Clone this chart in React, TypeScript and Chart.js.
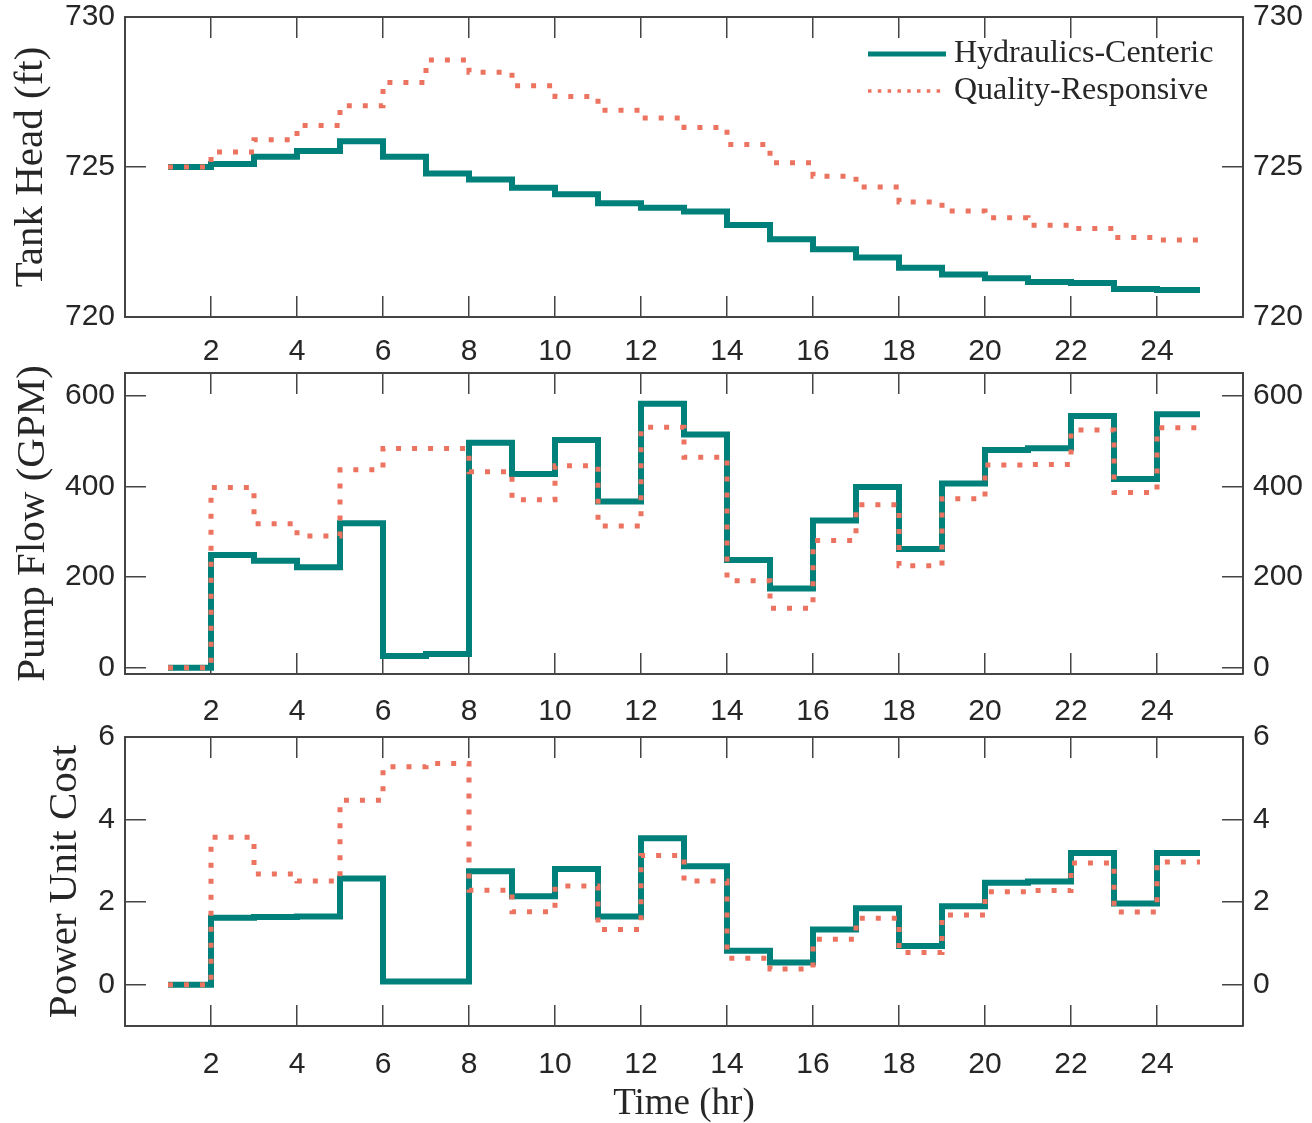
import React, { useEffect, useRef } from 'react';
import { Chart, registerables } from 'chart.js';

Chart.register(...registerables);

// ---------- data ----------
const hours = [1, 2, 3, 4, 5, 6, 7, 8, 9, 10, 11, 12, 13, 14, 15, 16, 17, 18, 19, 20, 21, 22, 23, 24, 25];
const xTicks = [2, 4, 6, 8, 10, 12, 14, 16, 18, 20, 22, 24];
const seriesLabels = ['Hydraulics-Centeric', 'Quality-Responsive'];
const yTitles = ['Tank Head (ft)', 'Pump Flow (GPM)', 'Power Unit Cost'];
const xTitle = 'Time (hr)';

const headTicks = [720, 725, 730];
const flowTicks = [0, 200, 400, 600];
const costTicks = [0, 2, 4, 6];

const headHC = [725.0, 725.1, 725.34, 725.53, 725.86, 725.34, 724.78, 724.58, 724.31, 724.09, 723.79, 723.64,
  723.52, 723.07, 722.59, 722.26, 721.98, 721.64, 721.42, 721.29, 721.17, 721.13, 720.93, 720.9];
const headQR = [725.0, 725.5, 725.91, 726.38, 727.04, 727.82, 728.57, 728.16, 727.71, 727.35, 726.89, 726.63,
  726.32, 725.75, 725.14, 724.69, 724.33, 723.83, 723.53, 723.31, 723.06, 722.95, 722.65, 722.57];

const flowHC = [0, 249, 236, 222, 319, 26, 30, 497, 428, 503, 367, 583,
  515, 238, 175, 325, 399, 262, 407, 481, 485, 556, 417, 560];
const flowQR = [0, 398, 318, 291, 437, 484, 484, 433, 371, 446, 313, 531,
  465, 192, 131, 281, 360, 225, 373, 448, 449, 525, 387, 530];

const costHC = [0, 1.62, 1.64, 1.65, 2.57, 0.08, 0.08, 2.75, 2.14, 2.8, 1.65, 3.55,
  2.87, 0.82, 0.54, 1.34, 1.85, 0.94, 1.9, 2.47, 2.5, 3.19, 1.97, 3.19];
const costQR = [0, 3.57, 2.68, 2.51, 4.47, 5.28, 5.36, 2.29, 1.77, 2.39, 1.34, 3.13,
  2.51, 0.64, 0.38, 1.1, 1.61, 0.78, 1.69, 2.25, 2.28, 2.95, 1.76, 2.97];

// ---------- style ----------
const TEAL = '#00807A';
const ORANGE = '#EB735F';
const TEXT = '#262626';
const AXIS = '#444444';
const SANS = '"Liberation Sans", Arial, sans-serif';
const SERIF = '"Liberation Serif", "Times New Roman", serif';
const PAGE_W = 1312;
const AREA_LEFT = 125;
const AREA_RIGHT = 1243;

interface Panel {
  top: number; height: number; areaTop: number; areaBottom: number;
  yMin: number; yMax: number; yTicks: number[]; title: string;
  hc: number[]; qr: number[]; xLabelPad: number; titlePad: number;
  showXTitle: boolean; showLegend: boolean;
}

const panels: Panel[] = [
  { top: 0, height: 365, areaTop: 17, areaBottom: 317, yMin: 720, yMax: 730, yTicks: headTicks,
    title: yTitles[0], hc: headHC, qr: headQR, xLabelPad: 41, titlePad: 10.5, showXTitle: false, showLegend: true },
  { top: 365, height: 360, areaTop: 373, areaBottom: 674, yMin: -14, yMax: 651, yTicks: flowTicks,
    title: yTitles[1], hc: flowHC, qr: flowQR, xLabelPad: 44, titlePad: 12.5, showXTitle: false, showLegend: false },
  { top: 725, height: 398, areaTop: 737, areaBottom: 1026, yMin: -1, yMax: 6, yTicks: costTicks,
    title: yTitles[2], hc: costHC, qr: costQR, xLabelPad: 45, titlePad: 44.5, showXTitle: true, showLegend: false },
];

const insideLegend = {
  id: 'insideLegend',
  afterDatasetsDraw(chart: any) {
    const { ctx, chartArea } = chart;
    const ds = chart.data.datasets;
    ctx.save();
    ds.forEach((d: any, i: number) => {
      const y = chartArea.top + 37 + i * 37;
      const x0 = chartArea.right - 375;
      const x1 = chartArea.right - 297;
      const dotted = d.borderDash && d.borderDash.length > 0;
      ctx.beginPath();
      ctx.strokeStyle = d.borderColor;
      ctx.lineWidth = dotted ? 3.5 : 5;
      ctx.lineCap = 'butt';
      ctx.setLineDash(dotted ? [3.5, 6.3] : []);
      ctx.moveTo(x0, y);
      ctx.lineTo(x1, y);
      ctx.stroke();
      ctx.setLineDash([]);
      ctx.font = '32px ' + SERIF;
      ctx.fillStyle = TEXT;
      ctx.textBaseline = 'middle';
      ctx.textAlign = 'left';
      ctx.fillText(d.label, chartArea.right - 289, y);
    });
    ctx.restore();
  },
};

function toPoints(vals: number[]) {
  return hours.map((h, i) => ({ x: h, y: vals[Math.min(i, vals.length - 1)] }));
}

function noPad(s: any) {
  s.paddingTop = 0;
  s.paddingBottom = 0;
  s.paddingLeft = 0;
  s.paddingRight = 0;
}

function makeChart(canvas: HTMLCanvasElement, p: Panel) {
  const topH = p.areaTop - p.top;
  const bottomH = p.height - (p.areaBottom - p.top);
  const grid = { drawOnChartArea: false, drawTicks: true, tickLength: -21, color: AXIS, lineWidth: 1.5 };
  const border = { display: true, color: AXIS, width: 2 };
  const tickFont = { family: SANS, size: 30, lineHeight: 1 };
  const setX = (s: any) => { s.ticks = xTicks.map((v) => ({ value: v })); };
  const setY = (s: any) => { s.ticks = p.yTicks.map((v) => ({ value: v })); };

  return new Chart(canvas, {
    type: 'line',
    data: {
      datasets: [
        {
          label: seriesLabels[0], data: toPoints(p.hc), borderColor: TEAL, borderWidth: 6,
          stepped: true, pointRadius: 0, order: 1, borderCapStyle: 'butt', borderJoinStyle: 'miter',
          yAxisID: 'y', xAxisID: 'x',
        },
        {
          label: seriesLabels[1], data: toPoints(p.qr), borderColor: ORANGE, borderWidth: 5,
          borderDash: [5, 11], stepped: true, pointRadius: 0, order: 0, borderCapStyle: 'butt',
          borderJoinStyle: 'miter', yAxisID: 'y', xAxisID: 'x',
        },
      ] as any,
    },
    options: {
      responsive: false,
      animation: false,
      events: [],
      layout: { padding: 0, autoPadding: false },
      plugins: { legend: { display: false }, tooltip: { enabled: false } },
      scales: {
        x: {
          type: 'linear', position: 'bottom', min: 0, max: 26,
          afterBuildTicks: setX,
          afterFit: (s: any) => { s.height = bottomH; noPad(s); },
          grid, border,
          ticks: { font: tickFont, color: TEXT, padding: p.xLabelPad, maxRotation: 0, autoSkip: false },
          title: p.showXTitle
            ? { display: true, text: xTitle, color: TEXT, font: { family: SERIF, size: 37, lineHeight: 1 }, padding: { top: 0, bottom: 0.5 } }
            : { display: false },
        },
        xTop: {
          type: 'linear', position: 'top', min: 0, max: 26,
          afterBuildTicks: setX,
          afterFit: (s: any) => { s.height = topH; noPad(s); },
          grid, border,
          ticks: { display: false },
        },
        y: {
          type: 'linear', position: 'left', min: p.yMin, max: p.yMax,
          afterBuildTicks: setY,
          afterFit: (s: any) => { s.width = AREA_LEFT; noPad(s); },
          grid, border,
          ticks: { font: tickFont, color: TEXT, padding: 31 },
          title: { display: true, text: p.title, color: TEXT, font: { family: SERIF, size: 41, lineHeight: 1 }, padding: { top: p.titlePad, bottom: 0 } },
        },
        yRight: {
          type: 'linear', position: 'right', min: p.yMin, max: p.yMax,
          afterBuildTicks: setY,
          afterFit: (s: any) => { s.width = PAGE_W - AREA_RIGHT; noPad(s); },
          grid, border,
          ticks: { font: tickFont, color: TEXT, padding: 31 },
        },
      },
    } as any,
    plugins: p.showLegend ? [insideLegend] : [],
  });
}

function PanelChart({ p }: { p: Panel }) {
  const ref = useRef<HTMLCanvasElement | null>(null);
  useEffect(() => {
    if (!ref.current) return;
    const chart = makeChart(ref.current, p);
    return () => chart.destroy();
  }, [p]);
  return (
    <canvas
      ref={ref}
      width={PAGE_W}
      height={p.height}
      style={{ position: 'absolute', left: 0, top: p.top, width: PAGE_W, height: p.height, display: 'block' }}
    />
  );
}

export default function App() {
  return (
    <div style={{ position: 'absolute', left: 0, top: 0, width: PAGE_W, height: 1123, background: '#fff' }}>
      {panels.map((p, i) => (
        <PanelChart key={i} p={p} />
      ))}
    </div>
  );
}
